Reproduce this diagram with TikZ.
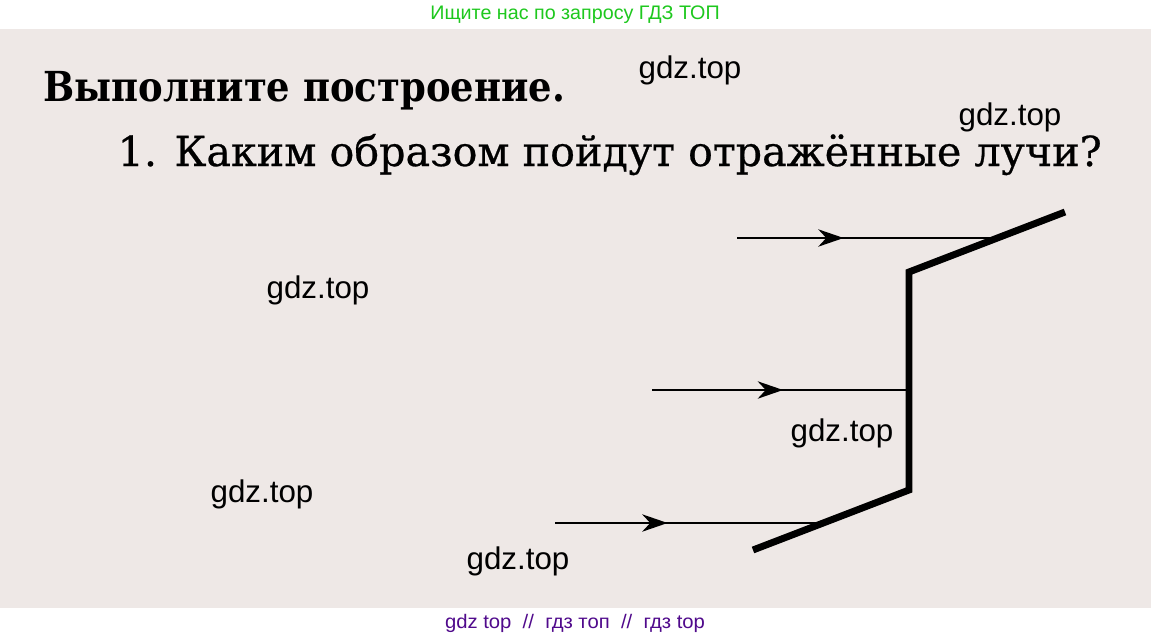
\documentclass[tikz,border=0pt]{standalone}
\usepackage{fontspec}
\setmainfont{DejaVu Serif}
\newfontfamily\wmfont{Liberation Sans}
\newfontfamily\taskfont[FakeBold=0.6]{DejaVu Serif}
\usetikzlibrary{arrows.meta,decorations.markings}
\definecolor{paper}{RGB}{238,232,230}
\definecolor{adgreen}{RGB}{30,200,30}
\definecolor{adpurple}{RGB}{80,10,140}
\tikzset{mirror/.style={line width=5.2pt},
    ray/.style={line width=1.6pt, postaction={decorate},
        decoration={markings, mark=at position #1 with
            {\arrow{Stealth[length=19pt,width=13pt,inset=6pt]}}}},
    wm/.style={font=\wmfont\fontsize{23.5}{28}\selectfont, anchor=base},
    banner/.style={font=\wmfont\fontsize{14.7}{17}\selectfont, anchor=base},
    }

\begin{document}
\begin{tikzpicture}[x=0.75pt, y=-0.75pt]
\useasboundingbox (0,0) rectangle (1151,639);
\fill[white] (0,0) rectangle (1151,639);
\fill[paper] (0,29) rectangle (1151,608);
% headings
\node[banner, text=adgreen] (ad) at (575,19)
    {\resizebox{217pt}{\height}{Ищите нас по запросу ГДЗ ТОП}};
\node[anchor=base west, font=\bfseries\fontsize{31}{36}\selectfont] (title) at (39,101)
    {\resizebox{391pt}{\height}{Выполните построение.}};
\node[anchor=base west, font=\taskfont\fontsize{31}{36}\selectfont] (task) at (113,166)
    {\resizebox{738pt}{\height}{1. Каким образом пойдут отражённые лучи?}};
% mirror corners
\coordinate (m1) at (753,550);
\coordinate (m2) at (909,490);
\coordinate (m3) at (909,272);
\coordinate (m4) at (1065,212);
% rays
\coordinate (s1) at (737,238);
\coordinate (e1) at (997,238);
\coordinate (s2) at (652,390);
\coordinate (e2) at (909,390);
\coordinate (s3) at (555,523);
\coordinate (e3) at (823,523);
\draw[ray=0.41] (s1) -- (e1);
\draw[ray=0.51] (s2) -- (e2);
\draw[ray=0.42] (s3) -- (e3);
\draw[mirror] (m1) -- (m2) -- (m3) -- (m4);
% watermarks
\node[wm] (wm1) at (690,78) {gdz.top};
\node[wm] (wm2) at (1010,125) {gdz.top};
\node[wm] (wm3) at (318,298) {gdz.top};
\node[wm] (wm4) at (842,441) {gdz.top};
\node[wm] (wm5) at (262,502) {gdz.top};
\node[wm] (wm6) at (518,569) {gdz.top};
\node[banner, text=adpurple] (foot) at (575,628)
    {\resizebox{195pt}{\height}{gdz top \ // \ гдз топ \ // \ гдз top}};
\end{tikzpicture}
\end{document}
